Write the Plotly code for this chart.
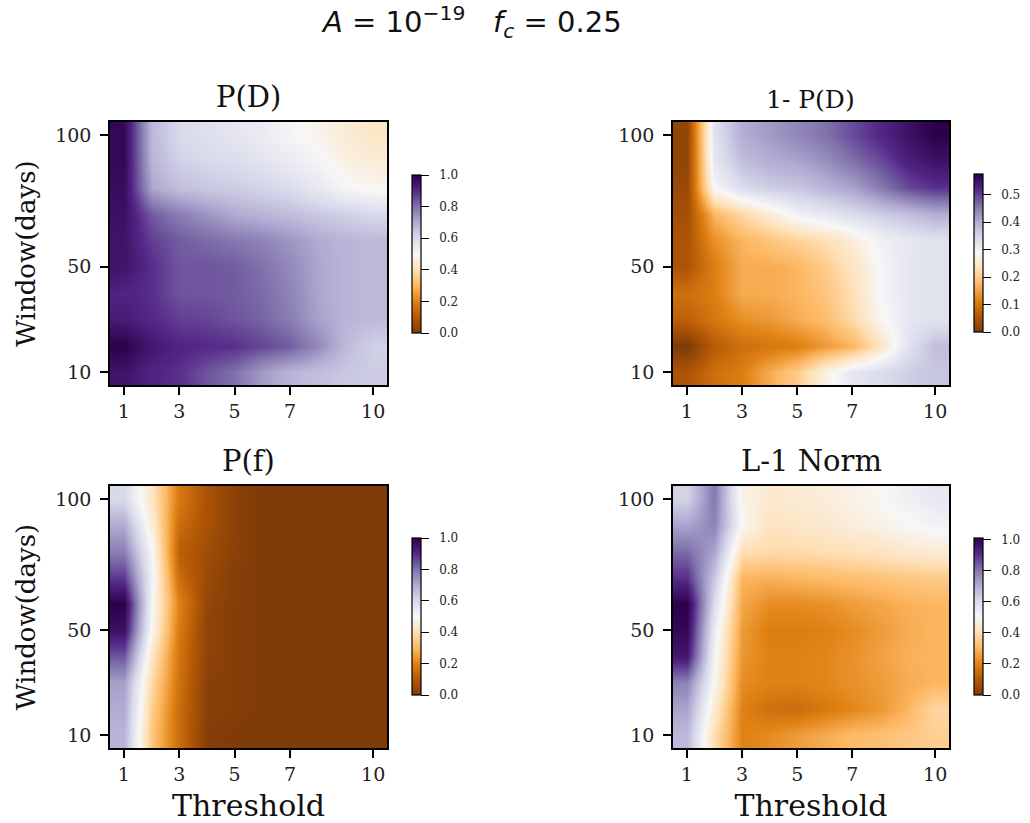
import plotly.graph_objects as go

# ---- data -------------------------------------------------------------
thresholds = [1, 2, 3, 4, 5, 6, 7, 8, 9, 10]
windows = [10, 20, 30, 40, 50, 60, 70, 80, 90, 100]

# detection probability, rows = window (10 -> 100), cols = threshold (1 -> 10)
p_detect = [
    [0.95, 0.91, 0.89, 0.84, 0.80, 0.73, 0.68, 0.66, 0.64, 0.63],
    [1.00, 0.94, 0.91, 0.90, 0.89, 0.86, 0.83, 0.76, 0.67, 0.62],
    [0.93, 0.90, 0.87, 0.86, 0.84, 0.82, 0.78, 0.72, 0.68, 0.67],
    [0.91, 0.89, 0.84, 0.84, 0.83, 0.81, 0.77, 0.71, 0.68, 0.67],
    [0.95, 0.89, 0.84, 0.84, 0.83, 0.80, 0.76, 0.71, 0.68, 0.67],
    [0.95, 0.87, 0.83, 0.81, 0.79, 0.77, 0.74, 0.70, 0.68, 0.67],
    [0.96, 0.83, 0.78, 0.74, 0.70, 0.68, 0.66, 0.64, 0.62, 0.60],
    [0.97, 0.71, 0.66, 0.64, 0.63, 0.61, 0.59, 0.55, 0.51, 0.49],
    [0.98, 0.68, 0.62, 0.60, 0.59, 0.57, 0.54, 0.51, 0.47, 0.45],
    [0.98, 0.67, 0.60, 0.58, 0.56, 0.54, 0.51, 0.48, 0.45, 0.425],
]

# false-alarm probability
p_false = [
    [0.68, 0.33, 0.15, 0.01, 0.00, 0.00, 0.00, 0.00, 0.00, 0.00],
    [0.70, 0.35, 0.15, 0.02, 0.01, 0.00, 0.00, 0.00, 0.00, 0.00],
    [0.72, 0.38, 0.16, 0.02, 0.01, 0.00, 0.00, 0.00, 0.00, 0.00],
    [0.84, 0.42, 0.17, 0.03, 0.01, 0.00, 0.00, 0.00, 0.00, 0.00],
    [0.96, 0.48, 0.18, 0.03, 0.01, 0.00, 0.00, 0.00, 0.00, 0.00],
    [1.00, 0.50, 0.20, 0.04, 0.01, 0.00, 0.00, 0.00, 0.00, 0.00],
    [0.88, 0.52, 0.15, 0.05, 0.01, 0.00, 0.00, 0.00, 0.00, 0.00],
    [0.78, 0.50, 0.12, 0.06, 0.02, 0.00, 0.00, 0.00, 0.00, 0.00],
    [0.70, 0.45, 0.15, 0.08, 0.02, 0.00, 0.00, 0.00, 0.00, 0.00],
    [0.60, 0.42, 0.18, 0.08, 0.02, 0.00, 0.00, 0.00, 0.00, 0.00],
]

# L-1 norm
l1_norm = [
    [0.68, 0.40, 0.20, 0.22, 0.25, 0.28, 0.31, 0.32, 0.34, 0.36],
    [0.72, 0.45, 0.20, 0.16, 0.15, 0.18, 0.21, 0.24, 0.30, 0.38],
    [0.78, 0.50, 0.22, 0.20, 0.20, 0.21, 0.23, 0.25, 0.28, 0.30],
    [0.95, 0.52, 0.24, 0.20, 0.20, 0.21, 0.23, 0.26, 0.29, 0.30],
    [0.99, 0.55, 0.25, 0.19, 0.19, 0.20, 0.22, 0.25, 0.28, 0.30],
    [1.01, 0.60, 0.27, 0.22, 0.22, 0.23, 0.25, 0.27, 0.29, 0.30],
    [0.90, 0.65, 0.30, 0.29, 0.30, 0.31, 0.32, 0.33, 0.34, 0.35],
    [0.82, 0.72, 0.40, 0.39, 0.39, 0.40, 0.41, 0.42, 0.44, 0.45],
    [0.72, 0.78, 0.50, 0.42, 0.43, 0.44, 0.46, 0.48, 0.50, 0.52],
    [0.62, 0.80, 0.48, 0.44, 0.45, 0.46, 0.48, 0.50, 0.53, 0.56],
]

p_miss = [[1.0 - v for v in row] for row in p_detect]

x_ticks = [1, 3, 5, 7, 10]
y_ticks = [10, 50, 100]

# ---- styling ------------------------------------------------------------
W, H = 1030, 823
SERIF = "DejaVu Serif"

PUOR = [
    [0.0, "#7f3b08"], [0.1, "#b35806"], [0.2, "#e08214"], [0.3, "#fdb863"],
    [0.4, "#fee0b6"], [0.5, "#f7f7f7"], [0.6, "#d8daeb"], [0.7, "#b2abd2"],
    [0.8, "#8073ac"], [0.9, "#542788"], [1.0, "#2d004b"],
]


def px_x(v):
    return v / W


def px_y(v):
    return 1 - v / H


panels = [
    # z, zmin, zmax, dtick, axis box (left, right, top, bottom), colorbar (left, top)
    dict(z=p_detect, zmin=0.0, zmax=1.0, dtick=0.2, box=(110, 387, 122, 385), cb=(412, 175)),
    dict(z=p_miss, zmin=0.0, zmax=0.575, dtick=0.1, box=(673, 949, 122, 385), cb=(974, 174)),
    dict(z=p_false, zmin=0.0, zmax=1.0, dtick=0.2, box=(110, 387, 486, 748), cb=(412, 538)),
    dict(z=l1_norm, zmin=0.0, zmax=1.01, dtick=0.2, box=(673, 949, 486, 748), cb=(974, 538)),
]

fig = go.Figure()
layout = {}

for i, p in enumerate(panels, start=1):
    sfx = "" if i == 1 else str(i)
    l, r, t, b = p["box"]
    cbx, cby = p["cb"]
    fig.add_trace(go.Heatmap(
        x=thresholds, y=windows, z=p["z"],
        zmin=p["zmin"], zmax=p["zmax"],
        colorscale=PUOR, zsmooth="best",
        xaxis="x" + sfx, yaxis="y" + sfx,
        colorbar=dict(
            x=px_x(cbx), xanchor="left", xpad=0,
            y=px_y(cby), yanchor="top", ypad=0,
            len=(b - t) * 0.6, lenmode="pixels",
            thickness=9, thicknessmode="pixels",
            outlinewidth=1.2, outlinecolor="black",
            ticks="outside", ticklen=8, tickwidth=1.4, tickcolor="black",
            tick0=0, dtick=p["dtick"], tickformat=".1f",
            tickprefix="\u00a0\u00a0",
            tickfont=dict(family=SERIF, size=12, color="#222"),
        ),
        hoverinfo="skip",
    ))
    layout["xaxis" + sfx] = dict(
        domain=[px_x(l), px_x(r)], anchor="y" + sfx,
        range=[0.5, 10.5], tickvals=x_ticks,
        showline=True, mirror=True, linecolor="black", linewidth=1.6,
        ticks="outside", ticklen=8, tickwidth=1.6, tickcolor="black",
        showgrid=False, zeroline=False,
        tickfont=dict(family=SERIF, size=19, color="#222"),
    )
    layout["yaxis" + sfx] = dict(
        domain=[px_y(b), px_y(t)], anchor="x" + sfx,
        range=[5, 105], tickvals=y_ticks,
        showline=True, mirror=True, linecolor="black", linewidth=1.6,
        ticks="outside", ticklen=8, tickwidth=1.6, tickcolor="black",
        ticklabelstandoff=5,
        showgrid=False, zeroline=False,
        tickfont=dict(family=SERIF, size=19, color="#222"),
    )

# axis labels on the outer panels only
win_font = dict(family=SERIF, size=26, color="#111")
thr_font = dict(family=SERIF, size=30, color="#111")
layout["yaxis"]["title"] = dict(text="Window(days)", font=win_font, standoff=12)
layout["yaxis3"]["title"] = dict(text="Window(days)", font=win_font, standoff=12)
layout["xaxis3"]["title"] = dict(text="Threshold", font=thr_font, standoff=11)
layout["xaxis4"]["title"] = dict(text="Threshold", font=thr_font, standoff=11)

titles = [
    ("P(D)", 248.5, 97, 29),
    ("1- P(D)", 810, 99, 25),
    ("P(f)", 248.5, 461, 29),
    ("L-1 Norm", 811, 461, 29),
]
annotations = [
    dict(text=txt, x=px_x(cx), y=px_y(cy), xref="paper", yref="paper",
         xanchor="center", yanchor="middle", showarrow=False,
         font=dict(family=SERIF, size=fs, color="#111"))
    for txt, cx, cy, fs in titles
]
annotations.append(dict(
    text="<i>A</i> = 10<sup>−19</sup>   <i>f<sub>c</sub></i> = 0.25",
    x=px_x(471), y=px_y(22), xref="paper", yref="paper",
    xanchor="center", yanchor="middle", showarrow=False,
    font=dict(family="DejaVu Sans", size=29, color="#111"),
))

fig.update_layout(
    width=W, height=H,
    margin=dict(l=0, r=0, t=0, b=0),
    paper_bgcolor="white", plot_bgcolor="white",
    showlegend=False,
    annotations=annotations,
    **layout,
)

fig.write_html("out.html")
